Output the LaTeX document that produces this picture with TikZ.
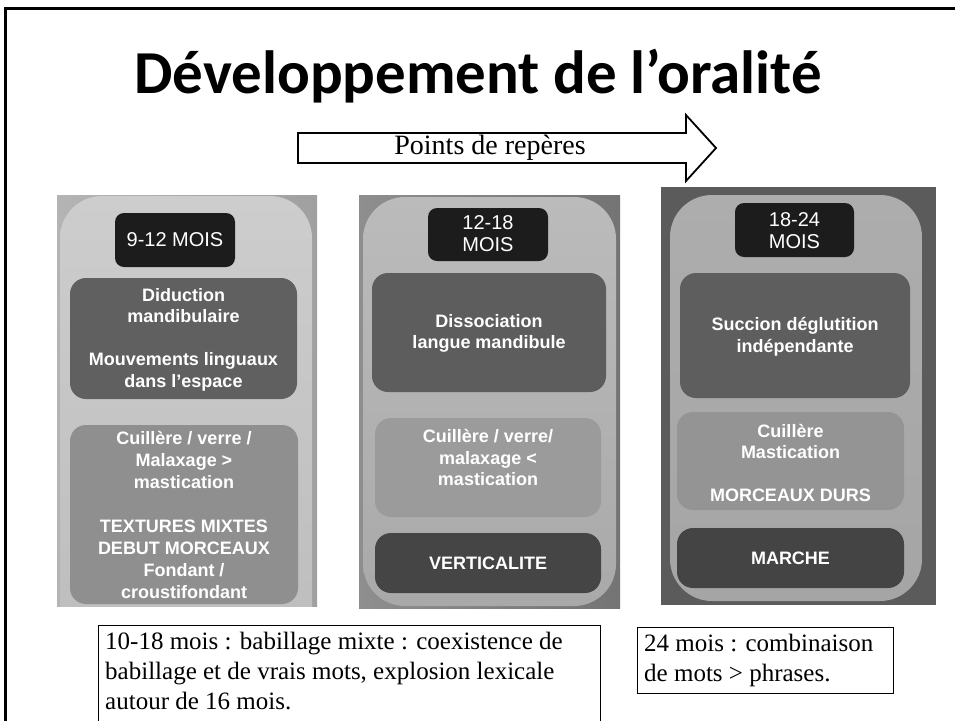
\documentclass[tikz,border=0pt]{standalone}
\usepackage{fontspec}
\setmainfont{Liberation Serif}
\newfontfamily\titlefont{Carlito}
\newfontfamily\panelfont{Liberation Sans}
\definecolor{lblbg}{HTML}{1C1C1C}
\definecolor{pAout}{HTML}{B4B4B4}
\definecolor{pAoutR}{HTML}{A0A0A0}
\definecolor{pAlightT}{HTML}{CDCDCD}
\definecolor{pAlightB}{HTML}{BDBDBD}
\definecolor{pAdark}{HTML}{606060}
\definecolor{pAmed}{HTML}{8F8F8F}
\definecolor{pBout}{HTML}{8E8E8E}
\definecolor{pBoutR}{HTML}{747474}
\definecolor{pBlightT}{HTML}{BBBBBB}
\definecolor{pBlightB}{HTML}{A9A9A9}
\definecolor{pBdark}{HTML}{5D5D5D}
\definecolor{pBmed}{HTML}{9B9B9B}
\definecolor{pBdarker}{HTML}{454545}
\definecolor{pCout}{HTML}{5B5B5B}
\definecolor{pClightT}{HTML}{ADADAD}
\definecolor{pClightB}{HTML}{A5A5A5}
\definecolor{pCdark}{HTML}{5E5E5E}
\definecolor{pCmed}{HTML}{949494}
\definecolor{pCdarker}{HTML}{444444}
\tikzset{
  lbltxt/.style={text=white, font=\panelfont\fontsize{20}{22}\selectfont, align=center, inner sep=0pt},
  ptxt/.style={text=white, font=\panelfont\bfseries\fontsize{18}{21.5}\selectfont, align=center, inner sep=0pt},
  notetxt/.style={font=\fontsize{25}{30}\selectfont, align=left, inner sep=0pt, anchor=north west},
  notebox/.style={draw=black, line width=1pt, fill=white},
  lblbox/.style={fill=lblbg, rounded corners=9pt},
  boxr/.style={rounded corners=16pt},
  lightr/.style={rounded corners=42pt}
}
\begin{document}
\begin{tikzpicture}[x=1pt,y=-1pt]
\useasboundingbox (0,0) rectangle (955,720);
\clip (0,0) rectangle (955,720);
\fill[white] (0,0) rectangle (955,720);
% frame
\draw[line width=3pt] (5,730) -- (5,8) -- (965,8);
% title
\node[font=\titlefont\bfseries\fontsize{61}{61}\selectfont, anchor=base, inner sep=0pt] (title) at (478,93) {Développement de l’oralité};
% arrow
\draw[line width=1.8pt, fill=white, line join=miter] (298,133) -- (686,133) -- (686,115) -- (716,148) -- (686,181) -- (686,163) -- (298,163) -- cycle;
\node[font=\fontsize{28}{28}\selectfont, inner sep=0pt] (arrowtxt) at (490,148) {Points de repères};

% ---------- panel 1 ----------
\begin{scope}
\clip (57,195) rectangle (317,606);
\shade[left color=pAout, right color=pAoutR] (57,195) rectangle (317,606);
\shade[lightr, top color=pAlightT, bottom color=pAlightB] (60,196) rectangle (312,650);
\fill[lblbox] (115,213) rectangle (235,267);
\fill[pAdark, boxr] (70,278) rectangle (297,399);
\fill[pAmed, boxr] (70,425) rectangle (298,604);
\end{scope}
\node[lbltxt] (l1) at (175,240) {9-12 MOIS};
\node[ptxt] (a1) at (183.5,339.5) {Diduction\\mandibulaire\\[21.5pt]Mouvements linguaux\\dans l’espace};
\node[ptxt, font=\panelfont\bfseries\fontsize{18}{22}\selectfont] (b1) at (184,514.5) {Cuillère / verre /\\Malaxage >\\mastication\\[22pt]TEXTURES MIXTES\\DEBUT MORCEAUX\\Fondant /\\croustifondant};

% ---------- panel 2 ----------
\shade[left color=pBout, right color=pBoutR] (359,195) rectangle (620,608);
\shade[lightr, top color=pBlightT, bottom color=pBlightB] (363,197) rectangle (616,606);
\fill[lblbox] (428,208) rectangle (548,261);
\fill[pBdark, boxr] (372,273) rectangle (606,392);
\fill[pBmed, boxr] (375,418) rectangle (601,517);
\fill[pBdarker, boxr] (375,533) rectangle (601,593);
\node[lbltxt] (l2) at (488,234) {12-18\\MOIS};
\node[ptxt] (a2) at (489,333.5) {Dissociation\\langue mandibule};
\node[ptxt] (b2) at (488,457.5) {Cuillère / verre/\\malaxage <\\mastication};
\node[ptxt] (c2) at (488,563) {VERTICALITE};

% ---------- panel 3 ----------
\fill[pCout] (661,187) rectangle (936,605);
\shade[lightr, top color=pClightT, bottom color=pClightB] (670,195) rectangle (922,601);
\fill[lblbox] (735,203) rectangle (854,257);
\fill[pCdark, boxr] (680,273) rectangle (910,398);
\fill[pCmed, boxr] (677,412) rectangle (904,510);
\fill[pCdarker, boxr] (677,528) rectangle (904,588);
\node[lbltxt] (l3) at (794.5,231) {18-24\\MOIS};
\node[ptxt] (a3) at (795,337) {Succion déglutition\\indépendante};
\node[ptxt] (b3) at (790.5,463) {Cuillère\\Mastication\\[21.5pt]MORCEAUX DURS};
\node[ptxt] (c3) at (790.5,558) {MARCHE};

% ---------- notes ----------
\draw[notebox] (98,625) rectangle (600,730);
\node[notetxt] (n1) at (105,632) {10-18 mois : babillage mixte : coexistence de\\babillage et de vrais mots, explosion lexicale\\autour de 16 mois.};
\draw[notebox] (637,627) rectangle (893,693);
\node[notetxt] (n2) at (644,634) {24 mois : combinaison\\de mots > phrases.};
\end{tikzpicture}
\end{document}
